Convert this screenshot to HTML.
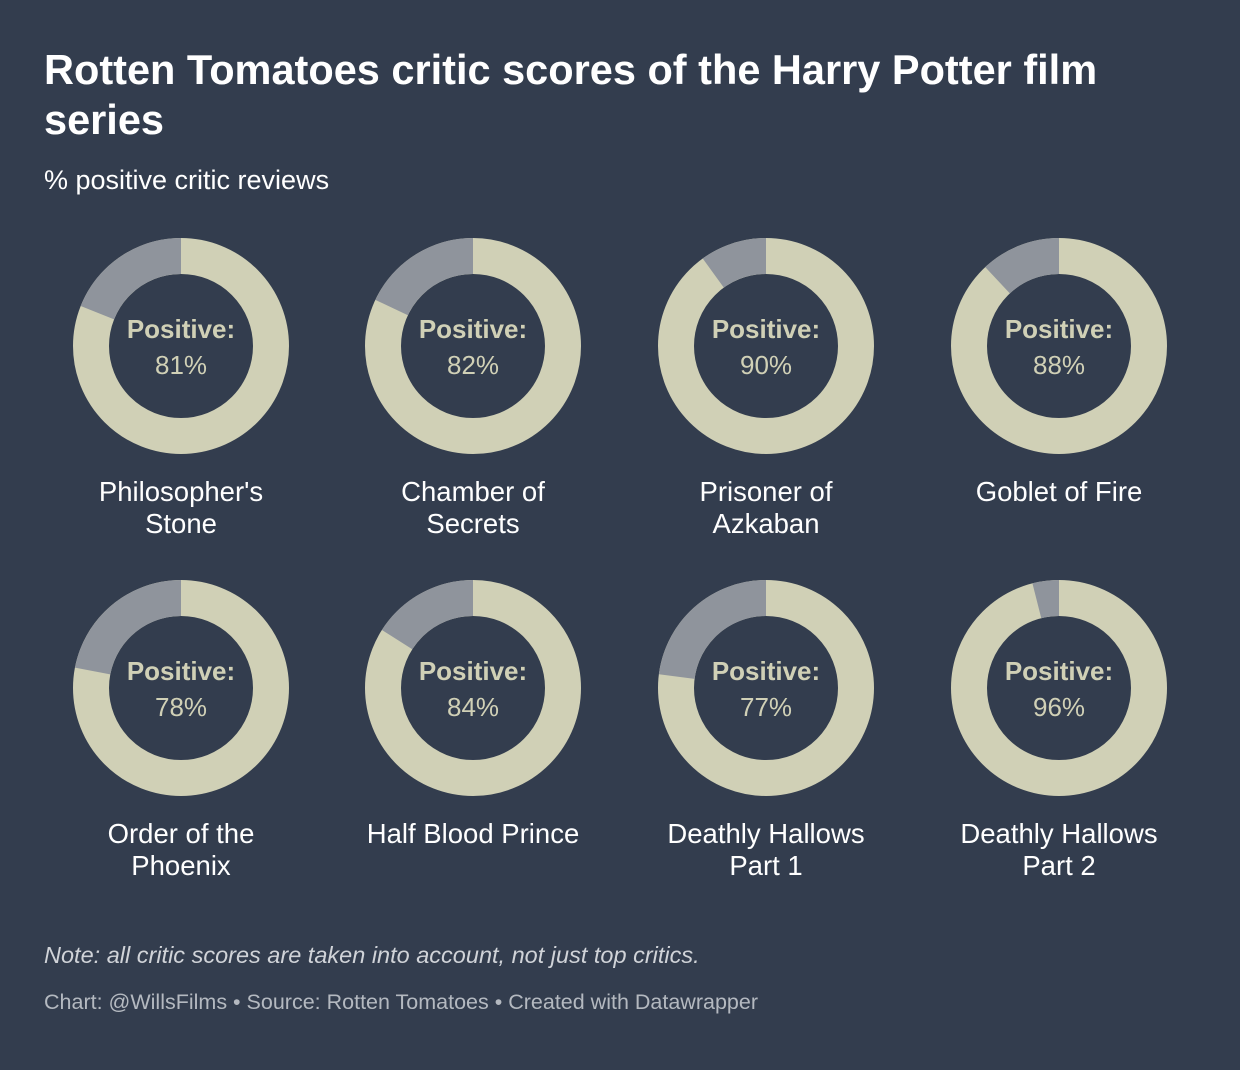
<!DOCTYPE html>
<html><head><style>
body{margin:0;background:#333d4e;}
svg{display:block}
</style></head><body>
<svg width="1240" height="1070" xmlns="http://www.w3.org/2000/svg" font-family="Liberation Sans, sans-serif">
<rect width="1240" height="1070" fill="#333d4e"/>
<text x="44" y="84" fill="#fff" font-size="41.5" font-weight="bold">Rotten Tomatoes critic scores of the Harry Potter film</text>
<text x="44" y="134" fill="#fff" font-size="41.5" font-weight="bold">series</text>
<text x="44" y="189" fill="#fff" font-size="27">% positive critic reviews</text>
<g font-size="26" text-anchor="middle">
<g transform="translate(181,346)"><circle r="90" fill="none" stroke="#d0d0b6" stroke-width="36"/><circle r="90" fill="none" stroke="#8f949c" stroke-width="36" transform="rotate(-90)" stroke-dasharray="107.44 458.05" stroke-dashoffset="107.44"/><text y="-8" fill="#d0d0b6" font-weight="bold">Positive:</text><text y="28" fill="#d0d0b6">81%</text></g>
<g transform="translate(473,346)"><circle r="90" fill="none" stroke="#d0d0b6" stroke-width="36"/><circle r="90" fill="none" stroke="#8f949c" stroke-width="36" transform="rotate(-90)" stroke-dasharray="101.79 463.70" stroke-dashoffset="101.79"/><text y="-8" fill="#d0d0b6" font-weight="bold">Positive:</text><text y="28" fill="#d0d0b6">82%</text></g>
<g transform="translate(766,346)"><circle r="90" fill="none" stroke="#d0d0b6" stroke-width="36"/><circle r="90" fill="none" stroke="#8f949c" stroke-width="36" transform="rotate(-90)" stroke-dasharray="56.55 508.94" stroke-dashoffset="56.55"/><text y="-8" fill="#d0d0b6" font-weight="bold">Positive:</text><text y="28" fill="#d0d0b6">90%</text></g>
<g transform="translate(1059,346)"><circle r="90" fill="none" stroke="#d0d0b6" stroke-width="36"/><circle r="90" fill="none" stroke="#8f949c" stroke-width="36" transform="rotate(-90)" stroke-dasharray="67.86 497.63" stroke-dashoffset="67.86"/><text y="-8" fill="#d0d0b6" font-weight="bold">Positive:</text><text y="28" fill="#d0d0b6">88%</text></g>
<g transform="translate(181,688)"><circle r="90" fill="none" stroke="#d0d0b6" stroke-width="36"/><circle r="90" fill="none" stroke="#8f949c" stroke-width="36" transform="rotate(-90)" stroke-dasharray="124.41 441.08" stroke-dashoffset="124.41"/><text y="-8" fill="#d0d0b6" font-weight="bold">Positive:</text><text y="28" fill="#d0d0b6">78%</text></g>
<g transform="translate(473,688)"><circle r="90" fill="none" stroke="#d0d0b6" stroke-width="36"/><circle r="90" fill="none" stroke="#8f949c" stroke-width="36" transform="rotate(-90)" stroke-dasharray="90.48 475.01" stroke-dashoffset="90.48"/><text y="-8" fill="#d0d0b6" font-weight="bold">Positive:</text><text y="28" fill="#d0d0b6">84%</text></g>
<g transform="translate(766,688)"><circle r="90" fill="none" stroke="#d0d0b6" stroke-width="36"/><circle r="90" fill="none" stroke="#8f949c" stroke-width="36" transform="rotate(-90)" stroke-dasharray="130.06 435.43" stroke-dashoffset="130.06"/><text y="-8" fill="#d0d0b6" font-weight="bold">Positive:</text><text y="28" fill="#d0d0b6">77%</text></g>
<g transform="translate(1059,688)"><circle r="90" fill="none" stroke="#d0d0b6" stroke-width="36"/><circle r="90" fill="none" stroke="#8f949c" stroke-width="36" transform="rotate(-90)" stroke-dasharray="22.62 542.87" stroke-dashoffset="22.62"/><text y="-8" fill="#d0d0b6" font-weight="bold">Positive:</text><text y="28" fill="#d0d0b6">96%</text></g>
<g fill="#fff" font-size="27.5">
<text x="181" y="501">Philosopher's</text><text x="181" y="533">Stone</text>
<text x="473" y="501">Chamber of</text><text x="473" y="533">Secrets</text>
<text x="766" y="501">Prisoner of</text><text x="766" y="533">Azkaban</text>
<text x="1059" y="501">Goblet of Fire</text>
<text x="181" y="843">Order of the</text><text x="181" y="875">Phoenix</text>
<text x="473" y="843">Half Blood Prince</text>
<text x="766" y="843">Deathly Hallows</text><text x="766" y="875">Part 1</text>
<text x="1059" y="843">Deathly Hallows</text><text x="1059" y="875">Part 2</text>
</g>
</g>
<text x="44" y="963" fill="#d0d3d8" font-size="23.5" font-style="italic">Note: all critic scores are taken into account, not just top critics.</text>
<text x="44" y="1009" fill="#b4b9c0" font-size="21.5">Chart: @WillsFilms • Source: Rotten Tomatoes • Created with Datawrapper</text>
</svg>
</body></html>
